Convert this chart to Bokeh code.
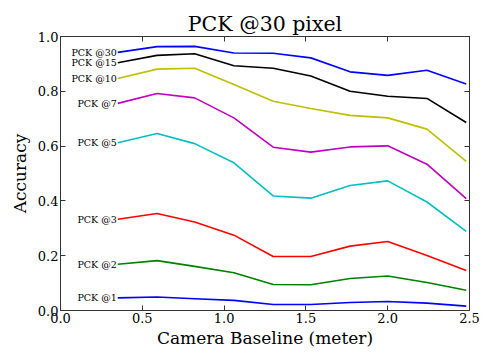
from bokeh.plotting import figure
from bokeh.models import LinearAxis, FixedTicker, NumeralTickFormatter, Range1d, ColumnDataSource
from bokeh.embed import file_html
from bokeh.resources import INLINE
from bokeh.core.properties import value

baseline = [0.35, 0.59, 0.82, 1.06, 1.30, 1.53, 1.77, 2.00, 2.24, 2.48]
pck30 = [0.942, 0.963, 0.964, 0.940, 0.939, 0.922, 0.871, 0.858, 0.877, 0.827]
pck15 = [0.904, 0.931, 0.937, 0.893, 0.884, 0.856, 0.800, 0.782, 0.774, 0.686]
pck10 = [0.847, 0.881, 0.884, 0.825, 0.764, 0.737, 0.712, 0.703, 0.662, 0.544]
pck7 = [0.756, 0.792, 0.776, 0.703, 0.596, 0.578, 0.597, 0.601, 0.534, 0.408]
pck5 = [0.612, 0.646, 0.609, 0.539, 0.418, 0.410, 0.456, 0.473, 0.396, 0.289]
pck3 = [0.333, 0.354, 0.323, 0.275, 0.197, 0.197, 0.235, 0.252, 0.201, 0.146]
pck2 = [0.169, 0.182, 0.161, 0.138, 0.095, 0.094, 0.117, 0.126, 0.102, 0.074]
pck1 = [0.046, 0.049, 0.043, 0.037, 0.022, 0.022, 0.029, 0.033, 0.027, 0.016]
labels = ["PCK @30", "PCK @15", "PCK @10", "PCK @7", "PCK @5", "PCK @3", "PCK @2", "PCK @1"]
colors = ["#0000ff", "#000000", "#bfbf00", "#bf00bf", "#00bfbf", "#ff0000", "#008000", "#0000ff"]
series = [pck30, pck15, pck10, pck7, pck5, pck3, pck2, pck1]
xticks = [0.0, 0.5, 1.0, 1.5, 2.0, 2.5]
yticks = [0.0, 0.2, 0.4, 0.6, 0.8, 1.0]

FONT = "DejaVu Serif"

p = figure(width=490, height=355, output_backend="svg", toolbar_location=None,
           x_range=Range1d(0, 2.5), y_range=Range1d(0, 1.0),
           frame_width=409, frame_height=274,
           min_border_left=60, min_border_right=21, min_border_top=36, min_border_bottom=45,
           title="PCK @30 pixel")
p.title.text_font = FONT
p.title.text_font_size = "20.5px"
p.title.text_font_style = "normal"
p.title.text_color = "black"
p.title.align = "center"
p.title.standoff = 1
p.xgrid.visible = False
p.ygrid.visible = False
p.outline_line_color = "#333333"
p.outline_line_width = 1
p.background_fill_color = "white"
p.border_fill_color = "white"

for ax in (p.xaxis[0], p.yaxis[0]):
    ax.major_tick_in = 5
    ax.major_tick_out = 0
    ax.minor_tick_in = 0
    ax.minor_tick_out = 0
    ax.major_label_text_font = FONT
    ax.major_label_text_font_size = "13px"
    ax.major_label_text_color = "black"
    ax.axis_label_text_font = FONT
    ax.axis_label_text_font_size = "17px"
    ax.axis_label_text_font_style = "normal"
    ax.axis_label_text_color = "black"
    ax.axis_line_color = "#333333"
    ax.major_tick_line_color = "#333333"
    ax.major_label_standoff = 2
p.xaxis[0].axis_label_standoff = 2
p.yaxis[0].axis_label_standoff = 5
p.xaxis[0].ticker = FixedTicker(ticks=xticks)
p.yaxis[0].ticker = FixedTicker(ticks=yticks)
p.xaxis[0].formatter = NumeralTickFormatter(format="0.0")
p.yaxis[0].formatter = NumeralTickFormatter(format="0.0")
p.xaxis[0].axis_label = "Camera Baseline (meter)"
p.yaxis[0].axis_label = "Accuracy"

top = LinearAxis(ticker=FixedTicker(ticks=xticks),
                 major_label_overrides={t: "" for t in xticks},
                 major_tick_in=5, major_tick_out=0, minor_tick_in=0, minor_tick_out=0,
                 major_label_standoff=0, axis_line_color="#333333", major_tick_line_color="#333333")
right = LinearAxis(ticker=FixedTicker(ticks=yticks),
                   major_label_overrides={t: "" for t in yticks},
                   major_tick_in=5, major_tick_out=0, minor_tick_in=0, minor_tick_out=0,
                   major_label_standoff=0, axis_line_color="#333333", major_tick_line_color="#333333")
p.add_layout(top, "above")
p.add_layout(right, "right")

for ys, c in zip(series, colors):
    p.line(baseline, ys, line_color=c, line_width=1.6)

src = ColumnDataSource(dict(x=[baseline[0]] * len(series), y=[s[0] for s in series], t=labels))
p.text(x="x", y="y", text="t", source=src, text_align="right", text_baseline="middle",
       text_font=value(FONT), text_font_size="9.5px", text_color="black", x_offset=-1)

open("out.html", "w").write(file_html(p, INLINE))
